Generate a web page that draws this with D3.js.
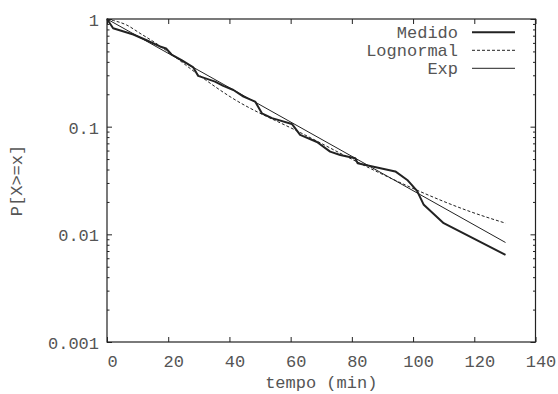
<!DOCTYPE html>
<html>
<head>
<meta charset="utf-8">
<script src="https://cdn.jsdelivr.net/npm/d3@7"></script>
<style>
  html, body { margin: 0; padding: 0; background: #fff; }
  svg text { font-family: "Liberation Mono", "DejaVu Sans Mono", monospace; font-size: 17px; fill: #555; }
</style>
</head>
<body>
<div id="chart"></div>
<script>
// values
const medidoT = [0, 2, 8.6, 13.1, 17.3, 19.3, 21.1, 24.5, 28.2, 29.8, 35.3, 38.0, 41.3, 44.6, 48.4, 50.6, 53.9, 60.4, 63.1, 68.6, 72.9, 76.2, 81.1, 81.9, 87.1, 94.2, 98.1, 101.3, 103.5, 110.0, 130.2];
const medidoP = [1, 0.82, 0.718, 0.631, 0.556, 0.532, 0.468, 0.412, 0.355, 0.296, 0.262, 0.239, 0.219, 0.19, 0.171, 0.133, 0.12, 0.106, 0.0838, 0.0721, 0.0586, 0.0546, 0.0509, 0.0457, 0.0425, 0.0384, 0.032, 0.0253, 0.0188, 0.0127, 0.00644];

const lognT = [0, 2.1, 6.4, 10.8, 16.0, 21.4, 30.4, 40.2, 63.1, 89.3, 102.4, 118.7, 130.2];
const lognP = [1, 0.968, 0.88, 0.736, 0.595, 0.463, 0.296, 0.19, 0.0883, 0.0369, 0.0249, 0.01625, 0.0127];

const expT = [0, 130.2];
const expP = [1, 0.0084];

const xTickValues = [0, 20, 40, 60, 80, 100, 120, 140];
const yTickValues = [0.001, 0.01, 0.1, 1];
const yTickLabels = ['0.001', '0.01', '0.1', '1'];

const legendNames = ['Medido', 'Lognormal', 'Exp'];

const W = 558, H = 394;
const plotL = 107, plotR = 535.5, plotT = 19, plotB = 342;
const ink = '#222';

const svg = d3.select('#chart').append('svg')
  .attr('width', W).attr('height', H);

const x = d3.scaleLinear().domain([0, 140]).range([plotL, plotR]);
const y = d3.scaleLog().domain([0.001, 1]).range([plotB, plotT]);

// minor ticks on the log axis (2..9 per decade)
const yMinor = y.ticks().filter(v => !yTickValues.some(m => Math.abs(m - v) < 1e-12));

function styleAxis(g) {
  g.select('.domain').remove();
  g.selectAll('.tick line').attr('stroke', ink).attr('stroke-width', 1);
}

// bottom axis with labels
svg.append('g')
  .attr('transform', `translate(0,${plotB})`)
  .call(d3.axisBottom(x).tickValues(xTickValues).tickSize(-5).tickFormat(d => d))
  .call(styleAxis)
  .call(g => g.selectAll('text').attr('y', 25).attr('dy', null).attr('dx', 5));

// top mirror
svg.append('g')
  .attr('transform', `translate(0,${plotT})`)
  .call(d3.axisTop(x).tickValues(xTickValues).tickSize(-5).tickFormat(''))
  .call(styleAxis);

// left axis with labels
svg.append('g')
  .attr('transform', `translate(${plotL},0)`)
  .call(d3.axisLeft(y).tickValues(yTickValues).tickSize(-5)
    .tickFormat((d, i) => yTickLabels[i]))
  .call(styleAxis)
  .call(g => g.selectAll('text').attr('x', -8).attr('dy', '0.38em'));

svg.append('g')
  .attr('transform', `translate(${plotL},0)`)
  .call(d3.axisLeft(y).tickValues(yMinor).tickSize(-2.5).tickFormat(''))
  .call(styleAxis);

// right mirror
svg.append('g')
  .attr('transform', `translate(${plotR},0)`)
  .call(d3.axisRight(y).tickValues(yTickValues).tickSize(-5).tickFormat(''))
  .call(styleAxis);

svg.append('g')
  .attr('transform', `translate(${plotR},0)`)
  .call(d3.axisRight(y).tickValues(yMinor).tickSize(-2.5).tickFormat(''))
  .call(styleAxis);

// frame
svg.append('rect')
  .attr('x', plotL).attr('y', plotT)
  .attr('width', plotR - plotL).attr('height', plotB - plotT)
  .attr('fill', 'none').attr('stroke', ink).attr('stroke-width', 1.2);

// axis titles
svg.append('text')
  .attr('x', (plotL + plotR) / 2).attr('y', 388)
  .attr('text-anchor', 'middle')
  .text('tempo (min)');

svg.append('text')
  .attr('transform', `translate(22,${(plotT + plotB) / 2}) rotate(-90)`)
  .attr('text-anchor', 'middle')
  .text('P[X>=x]');

// series
const line = d3.line()
  .x(d => x(d[0]))
  .y(d => y(d[1]));

const series = [
  { pts: d3.zip(medidoT, medidoP), width: 2, dash: null, curve: d3.curveLinear },
  { pts: d3.zip(lognT, lognP), width: 1, dash: '3,2', curve: d3.curveMonotoneX },
  { pts: d3.zip(expT, expP), width: 1, dash: null, curve: d3.curveLinear }
];

series.forEach(s => {
  svg.append('path')
    .datum(s.pts)
    .attr('fill', 'none')
    .attr('stroke', ink)
    .attr('stroke-width', s.width)
    .attr('stroke-dasharray', s.dash)
    .attr('stroke-linejoin', 'round')
    .attr('d', line.curve(s.curve));
});

// legend
const legend = svg.append('g');
series.forEach((s, i) => {
  const ly = 32.3 + i * 18;
  legend.append('text')
    .attr('x', 458).attr('y', ly + 5.5)
    .attr('text-anchor', 'end')
    .text(legendNames[i]);
  legend.append('line')
    .attr('x1', 472).attr('x2', 515)
    .attr('y1', ly).attr('y2', ly)
    .attr('stroke', ink)
    .attr('stroke-width', s.width)
    .attr('stroke-dasharray', s.dash);
});
</script>
</body>
</html>
